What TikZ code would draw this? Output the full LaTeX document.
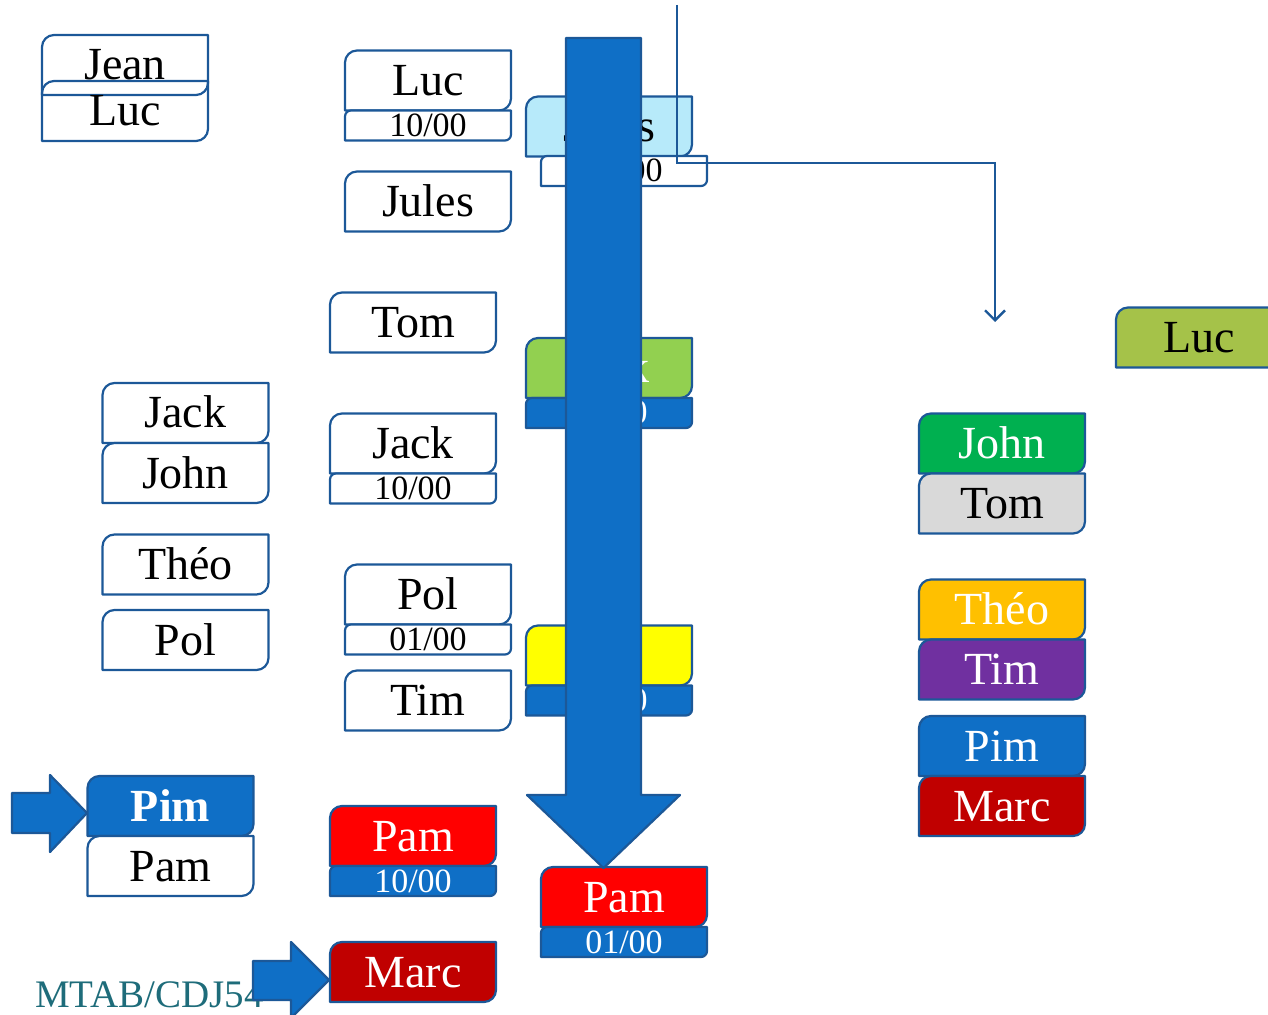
\documentclass[tikz,border=0pt]{standalone}
\usepackage{fontspec}
\setmainfont{Liberation Serif}
\usetikzlibrary{positioning,backgrounds,arrows.meta}
\definecolor{framecol}{RGB}{28,88,152}
\definecolor{accentblue}{RGB}{15,111,198}
\definecolor{lightblue}{RGB}{183,234,250}
\definecolor{jackgreen}{RGB}{146,208,80}
\definecolor{darkred}{RGB}{192,0,0}
\definecolor{olivegreen}{RGB}{165,194,73}
\definecolor{johngreen}{RGB}{0,176,80}
\definecolor{greybox}{RGB}{217,217,217}
\definecolor{theoorange}{RGB}{255,192,0}
\definecolor{timpurple}{RGB}{112,48,160}
\definecolor{tealtxt}{RGB}{30,108,122}
\definecolor{pureyellow}{RGB}{255,255,0}
\newcommand{\namefont}{\fontsize{23}{23}\selectfont}
\newcommand{\datefont}{\fontsize{17}{17}\selectfont}
% frame with rounded top left and bottom right corners
\newcommand{\roundframe}[3][6pt]{%
  \begin{pgfonlayer}{background}
  \draw[boxline,fill=#3] ([yshift=-#1]#2.north west) arc[start angle=180,end angle=90,radius=#1] -- (#2.north east) -- ([yshift=#1]#2.south east) arc[start angle=0,end angle=-90,radius=#1] -- (#2.south west) -- cycle;
  \end{pgfonlayer}}
\tikzset{
  boxline/.style={draw=framecol,line width=1.1pt,line join=round},
  namebox/.style={minimum width=83pt,minimum height=30pt,inner sep=0pt,outer sep=0pt,text height=15pt,text depth=0pt,font=\namefont},
  datebox/.style={minimum width=83pt,minimum height=15pt,inner sep=0pt,outer sep=0pt,text height=11pt,text depth=0pt,font=\datefont},
  blockarrow/.style={draw=framecol,line width=1.1pt,fill=accentblue,line join=round}
}
\begin{document}
\begin{tikzpicture}[x=0.5pt,y=-0.5pt]
\useasboundingbox (0,0) rectangle (1268,1015);
% left column
\node[namebox] (jean) at (125,65) {Jean};
\node[namebox] (luc) at (125,111) {Luc};
\node[namebox] (jack) at (185.5,413) {Jack};
\node[namebox,below=0pt of jack] (john) {John};
\node[namebox] (theo) at (185.5,564.5) {Théo};
\node[namebox] (pol) at (185.5,640) {Pol};
\node[namebox,text=white,font=\namefont\bfseries] (pim) at (170.5,806) {Pim};
\node[namebox,below=0pt of pim] (pam) {Pam};
\node[anchor=base west,text=tealtxt,font=\fontsize{19.5}{19.5}\selectfont] (footer) at (28,1007) {MTAB/CDJ54};
% second column
\node[namebox] (luc2) at (428,80.5) {Luc};
\node[datebox,below=0pt of luc2] (luc2d) {10/00};
\node[namebox] (jules2) at (428,201.5) {Jules};
\node[namebox] (tom2) at (413,322.5) {Tom};
\node[namebox] (jack2) at (413,443.5) {Jack};
\node[datebox,below=0pt of jack2] (jack2d) {10/00};
\node[namebox] (pol2) at (428,594.5) {Pol};
\node[datebox,below=0pt of pol2] (pol2d) {01/00};
\node[namebox] (tim2) at (428,700.5) {Tim};
\node[namebox,text=white] (pam2) at (413,836) {Pam};
\node[datebox,text=white,below=0pt of pam2] (pam2d) {10/00};
\node[namebox,text=white] (marc2) at (413,972) {Marc};
% third column, under the big arrow
\node[namebox] (jules3) at (609,126.5) {Jules};
\node[datebox] (jules3d) at (624,171) {10/00};
\node[namebox,text=white] (jack3) at (609,368) {Jack};
\node[datebox,text=white,below=0pt of jack3] (jack3d) {10/00};
\node[namebox] (yel3) at (609,655.5) {};
\node[datebox,text=white,below=0pt of yel3] (yel3d) {01/00};
\node[namebox,text=white] (pam3) at (624,897) {Pam};
\node[datebox,text=white,below=0pt of pam3] (pam3d) {01/00};
% right column
\node[namebox] (luc4) at (1199,337.5) {Luc};
\node[namebox,text=white] (john4) at (1002,443.5) {John};
\node[namebox,below=0pt of john4] (tom4) {Tom};
\node[namebox,text=white] (theo4) at (1002,609.5) {Théo};
\node[namebox,text=white,below=0pt of theo4] (tim4) {Tim};
\node[namebox,text=white] (pim4) at (1002,746) {Pim};
\node[namebox,text=white,below=0pt of pim4] (marc4) {Marc};
% frames
\foreach \n/\c in {jean/none,luc/none,jack/white,john/white,theo/white,pol/white,pim/accentblue,pam/white,
  luc2/white,jules2/white,tom2/white,jack2/white,pol2/white,tim2/white,pam2/red,marc2/darkred,
  jules3/lightblue,jack3/jackgreen,yel3/pureyellow,pam3/red,
  luc4/olivegreen,john4/johngreen,tom4/greybox,theo4/theoorange,tim4/timpurple,pim4/accentblue,marc4/darkred}
  \roundframe{\n}{\c};
\foreach \n/\c in {luc2d/white,jack2d/white,pol2d/white,pam2d/accentblue,jules3d/white,jack3d/accentblue,yel3d/accentblue,pam3d/accentblue}
  \roundframe[3pt]{\n}{\c};
% arrows
\draw[blockarrow] (566,38) -- (641,38) -- (641,795) -- (680,795) -- (603.5,868) -- (527,795) -- (566,795) -- cycle;
\draw[blockarrow] (12,793) -- (50,793) -- (50,775) -- (87,813) -- (50,852) -- (50,833) -- (12,833) -- cycle;
\draw[blockarrow] (253,961) -- (291,961) -- (291,942) -- (329,980) -- (291,1018) -- (291,1000) -- (253,1000) -- cycle;
\coordinate (wire) at (677,5);
\coordinate (bend) at (995,163);
\coordinate (drop) at (995,322);
\draw[draw=framecol,line width=0.9pt,-{Straight Barb[length=5pt,width=10pt,line width=1.2pt]}] (wire) |- (bend) -- (drop);
\end{tikzpicture}
\end{document}
